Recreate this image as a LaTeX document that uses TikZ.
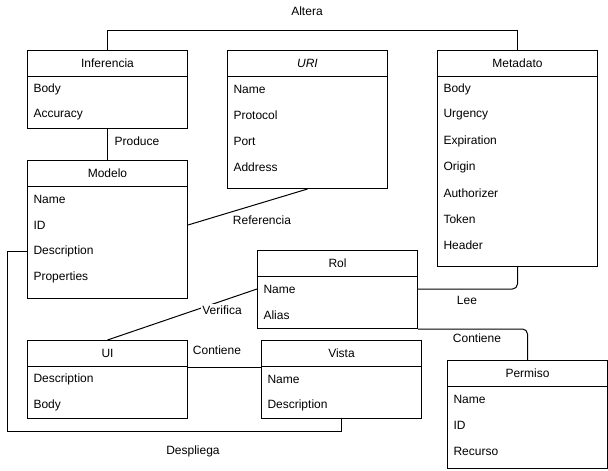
\documentclass[tikz,border=0pt]{standalone}
\usepackage{fontspec}
\setmainfont{Liberation Sans}
\begin{document}
\begin{tikzpicture}[x=1pt,y=-1pt,line width=1pt,
  every node/.style={font=\fontsize{12}{14}\selectfont},
  box/.style={draw, anchor=north west, minimum width=160pt, inner sep=0pt},
  head/.style={box, minimum height=26pt},
  fld/.style={anchor=west, inner sep=0pt},
  lbl/.style={fill=white, inner sep=1.5pt}]
\useasboundingbox (0,0) rectangle (608,471);
% classes
\node[box, minimum height=78pt] (inf) at (27,50) {};
\node[head] (infH) at (27,50) {Inferencia};
\foreach \f [count=\i] in {Body,Accuracy}
  \node[fld] (inf\i) at ([xshift=6pt,yshift={-(13+26*\i)*1pt}]inf.north west) {\f};
\node[box, minimum height=138pt] (uri) at (227,50) {};
\node[head] (uriH) at (227,50) {\itshape URI};
\foreach \f [count=\i] in {Name,Protocol,Port,Address}
  \node[fld] (uri\i) at ([xshift=6pt,yshift={-(13+26*\i)*1pt}]uri.north west) {\f};
\node[box, minimum height=216pt] (meta) at (437,50) {};
\node[head] (metaH) at (437,50) {Metadato};
\foreach \f [count=\i] in {Body,Urgency,Expiration,Origin,Authorizer,Token,Header}
  \node[fld] (meta\i) at ([xshift=6pt,yshift={-(13+26*\i)*1pt}]meta.north west) {\f};
\node[box, minimum height=138pt] (mod) at (27,160) {};
\node[head] (modH) at (27,160) {Modelo};
\foreach \f [count=\i] in {Name,ID,Description,Properties}
  \node[fld] (mod\i) at ([xshift=6pt,yshift={-(13+26*\i)*1pt}]mod.north west) {\f};
\node[box, minimum height=78pt] (rol) at (257,250) {};
\node[head] (rolH) at (257,250) {Rol};
\foreach \f [count=\i] in {Name,Alias}
  \node[fld] (rol\i) at ([xshift=6pt,yshift={-(13+26*\i)*1pt}]rol.north west) {\f};
\node[box, minimum height=78pt] (ui) at (27,340) {};
\node[head] (uiH) at (27,340) {UI};
\foreach \f [count=\i] in {Description,Body}
  \node[fld] (ui\i) at ([xshift=6pt,yshift={-(13+26*\i)*1pt}]ui.north west) {\f};
\node[box, minimum height=78pt] (vista) at (261,340) {};
\node[head] (vistaH) at (261,340) {Vista};
\foreach \f [count=\i] in {Name,Description}
  \node[fld] (vista\i) at ([xshift=6pt,yshift={-(13+26*\i)*1pt}]vista.north west) {\f};
\node[box, minimum height=108pt] (perm) at (447,360) {};
\node[head] (permH) at (447,360) {Permiso};
\foreach \f [count=\i] in {Name,ID,Recurso}
  \node[fld] (perm\i) at ([xshift=6pt,yshift={-(13+26*\i)*1pt}]perm.north west) {\f};
% relations
\draw (inf.north) -- ++(0,-20) -| (meta.north);
\node (altera) at (307,11) {Altera};
\draw (inf.south) -- (mod.north);
\node (produce) at (137,141) {Produce};
\draw (mod.east |- mod2) -- (uri.south);
\node (referencia) at (262,220) {Referencia};
\draw (mod.west |- mod3) -- ++(-20,0) |- ([yshift=-12pt]vista.south) -- (vista.south);
\node (despliega) at (193,451) {Despliega};
\draw (ui.north) -- (rol.west |- rol1);
\node[lbl] (verifica) at (222,310) {Verifica};
\draw (uiH.south east) -- (vistaH.south west);
\node (contiene1) at (217,350) {Contiene};
\draw[rounded corners=5pt] (meta.south) |- (rol.east |- rol1);
\node (lee) at (467,300) {Lee};
\draw[rounded corners=5pt] (rol.south east) -| (perm.north);
\node (contiene2) at (477,338) {Contiene};
\end{tikzpicture}
\end{document}
